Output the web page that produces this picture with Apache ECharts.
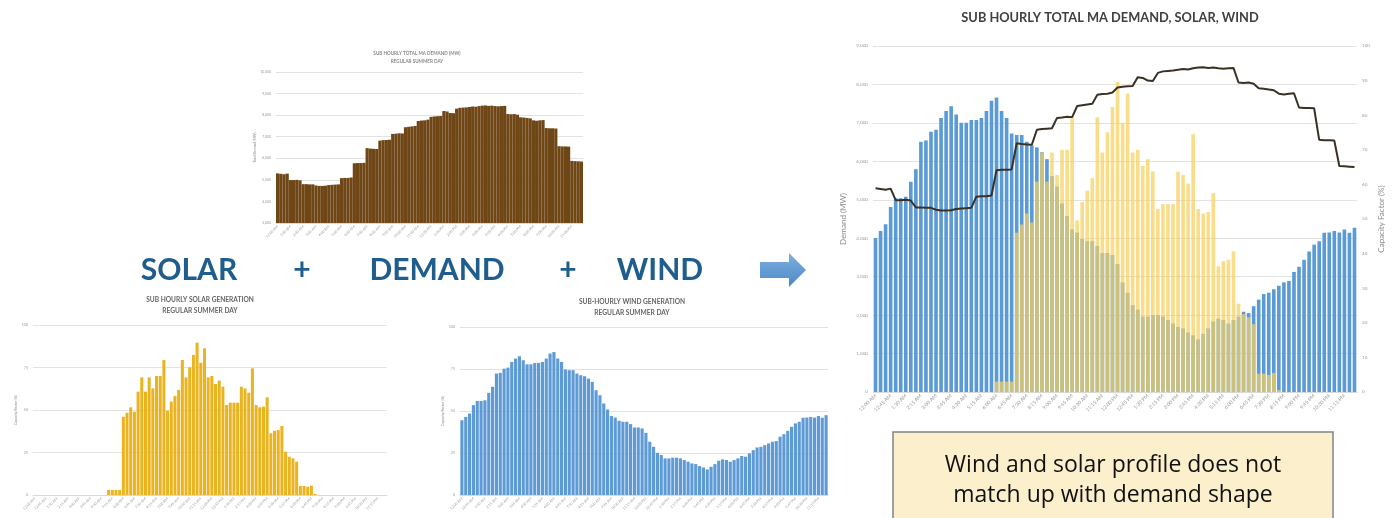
<!DOCTYPE html>
<html>
<head>
<meta charset="utf-8">
<script src="https://cdn.jsdelivr.net/npm/echarts@6/dist/echarts.min.js"></script>
<style>
  html, body { margin: 0; padding: 0; background: #ffffff; }
  #main { width: 1392px; height: 518px; }
</style>
</head>
<body>
<div id="main"></div>
<script>
// ---- categories: 15-minute slots over one day ----
const timeSlots = [];
for (let h = 0; h < 24; h++) {
  for (let m = 0; m < 60; m += 15) {
    const hh = h % 12 === 0 ? 12 : h % 12;
    timeSlots.push(hh + ':' + String(m).padStart(2, '0') + ' ' + (h < 12 ? 'AM' : 'PM'));
  }
}

// ---- total MA demand (MW), 15-minute values ----
const demandMW = [
  5300, 5280, 5260, 5290,  4990, 4990, 5000, 4980,  4800, 4800, 4790, 4790,  4740, 4720, 4720, 4730,
  4760, 4770, 4780, 4790,  5080, 5090, 5090, 5110,  5770, 5780, 5780, 5790,  6470, 6450, 6440, 6430,
  6820, 6840, 6850, 6860,  7130, 7140, 7160, 7150,  7440, 7460, 7480, 7500,  7730, 7750, 7760, 7790,
  7920, 7940, 7950, 7960,  8190, 8170, 8100, 8090,  8300, 8340, 8350, 8360,  8380, 8400, 8390, 8420,
  8440, 8450, 8430, 8440,  8420, 8410, 8420, 8430,  8050, 8040, 8050, 8020,  7900, 7890, 7870, 7850,
  7760, 7740, 7760, 7770,  7400, 7390, 7390, 7380,  6560, 6550, 6550, 6540,  5880, 5870, 5860, 5850
];

// ---- wind capacity factor (%) ----
const windCF = [
  44.5, 46.5, 48.5, 53.5, 56.0, 56.0, 56.4, 60.8, 64.4, 72.3, 72.7, 75.2, 75.8, 79.2, 81.2, 82.6,
  80.2, 77.8, 77.8, 78.6, 78.6, 79.2, 81.2, 84.2, 85.1, 81.2, 79.2, 74.7, 74.3, 74.3, 72.3, 71.3,
  70.7, 69.3, 67.3, 62.4, 59.4, 54.5, 50.9, 47.0, 46.1, 44.2, 43.6, 43.6, 42.2, 40.2, 40.2, 39.6,
  37.0, 31.7, 28.7, 25.1, 23.8, 21.8, 21.8, 22.2, 22.2, 21.8, 20.8, 19.8, 18.8, 18.4, 17.2, 16.4,
  15.2, 16.8, 18.4, 20.4, 21.2, 20.8, 19.8, 20.8, 21.8, 23.2, 22.8, 24.8, 26.7, 28.3, 28.7, 29.7,
  30.7, 31.7, 32.1, 34.7, 36.2, 38.2, 40.6, 42.6, 43.6, 46.0, 46.1, 46.5, 46.1, 47.0, 46.0, 47.5
];

// ---- solar capacity factor (%), stand-alone solar chart ----
const solarCF = [
  0, 0, 0, 0, 0, 0, 0, 0, 0, 0, 0, 0, 0, 0, 0, 0,
  0, 0, 0, 0, 3, 3, 3, 3, 46.0, 48.4, 51.6, 49.0, 60.8, 69.2, 60.8, 69.2,
  62.7, 70.0, 70.0, 79.4, 49.6, 54.9, 58.2, 61.8, 79.4, 69.2, 75.1, 82.4, 89.6, 77.8, 86.3, 69.2,
  70.0, 65.3, 67.3, 63.7, 52.9, 54.3, 54.3, 54.3, 63.7, 62.7, 60.2, 74.5, 52.9, 51.6, 52.0, 57.5,
  36.3, 37.8, 38.2, 40.6, 25.5, 22.5, 21.6, 19.6, 5.3, 5.3, 4.9, 5.5, 0.6, 0, 0, 0,
  0, 0, 0, 0, 0, 0, 0, 0, 0, 0, 0, 0, 0, 0, 0, 0
];

// ---- solar capacity factor (%), as plotted in the combined chart ----
const solarCFCombined = [
  0, 0, 0, 0, 0, 0, 0, 0, 0, 0, 0, 0, 0, 0, 0, 0,
  0, 0, 0, 0, 0, 0, 0, 0, 3, 3, 3, 3, 46.0, 48.4, 51.6, 49.0,
  60.8, 69.2, 60.8, 69.2, 62.7, 70.0, 70.0, 79.4, 49.6, 54.9, 58.2, 61.8, 79.4, 69.2, 75.1, 82.4,
  89.6, 77.8, 86.3, 69.2, 70.0, 65.3, 67.3, 63.7, 52.9, 54.3, 54.3, 54.3, 63.7, 62.7, 60.2, 74.5,
  52.9, 51.6, 52.0, 57.5, 36.3, 37.8, 38.2, 40.6, 25.5, 22.5, 21.6, 19.6, 5.3, 5.3, 4.9, 5.5,
  0.6, 0, 0, 0, 0, 0, 0, 0, 0, 0, 0, 0, 0, 0, 0, 0
];

// ---- axis ranges ----
const demandRangeMW = [3000, 10000, 1000];
const cfRangeSmall = [0, 100, 25];
const demandRangeCombined = [0, 9000, 1000];
const cfRangeCombined = [0, 100, 10];

// ---- headline words and note ----
const headlineWords = ['SOLAR', '+', 'DEMAND', '+', 'WIND'];
const noteLines = ['Wind and solar profile does not', 'match up with demand shape'];

const FONT = 'Lato, "Open Sans", "Noto Sans", sans-serif';
const gridLine = { lineStyle: { color: '#E3E3E3', width: 1 } };
const tinyLabel = (size) => ({ fontSize: size, color: '#9A9A9A', fontFamily: FONT });

function catAxis(gridIndex, interval, size) {
  return {
    type: 'category', gridIndex: gridIndex, data: timeSlots,
    axisTick: { show: false },
    axisLine: { lineStyle: { color: '#D9D9D9' } },
    axisLabel: Object.assign({ rotate: 45, interval: interval, margin: 3 }, tinyLabel(size))
  };
}

function valAxis(gridIndex, range, size, name, nameSize, nameGap, extra) {
  return Object.assign({
    type: 'value', gridIndex: gridIndex, min: range[0], max: range[1], interval: range[2],
    splitLine: gridLine,
    axisLabel: Object.assign({ margin: 5 }, tinyLabel(size)),
    name: name, nameLocation: 'middle', nameGap: nameGap,
    nameTextStyle: { fontSize: nameSize, color: '#8C8C8C', fontFamily: FONT }
  }, extra || {});
}

const chart = echarts.init(document.getElementById('main'), null, { renderer: 'canvas' });

const headlineX = [189, 302, 437, 568, 660];
const graphic = [];

// chart titles
function titlePair(x, y1, y2, a, b, font, fill) {
  graphic.push({ type: 'text', x: x, y: y1, style: { text: a, font: font, fill: fill, textAlign: 'center', textVerticalAlign: 'middle' } });
  if (b) graphic.push({ type: 'text', x: x, y: y2, style: { text: b, font: font, fill: fill, textAlign: 'center', textVerticalAlign: 'middle' } });
}
titlePair(1110, 18, 0, 'SUB HOURLY TOTAL MA DEMAND, SOLAR, WIND', null, 'bold 12.8px ' + FONT, '#404040');
titlePair(417, 54, 62, 'SUB HOURLY TOTAL MA DEMAND (MW)', 'REGULAR SUMMER DAY', 'bold 4.6px ' + FONT, '#8A8A8A');
titlePair(200, 300, 311, 'SUB HOURLY SOLAR GENERATION', 'REGULAR SUMMER DAY', 'bold 6.6px ' + FONT, '#666666');
titlePair(632, 302, 313, 'SUB-HOURLY WIND GENERATION', 'REGULAR SUMMER DAY', 'bold 6.6px ' + FONT, '#666666');

// headline words
headlineWords.forEach(function (w, i) {
  graphic.push({
    type: 'text', x: headlineX[i], y: 270,
    style: { text: w, font: 'bold 30px ' + FONT, fill: '#1F5E8C', textAlign: 'center', textVerticalAlign: 'middle' }
  });
});

// right-pointing arrow
graphic.push({
  type: 'polygon',
  shape: { points: [[760, 262], [789, 262], [789, 253], [806, 270], [789, 287], [789, 278], [760, 278]] },
  style: {
    fill: new echarts.graphic.LinearGradient(0, 0, 0, 1, [
      { offset: 0, color: '#7FB0E0' }, { offset: 1, color: '#4C88C6' }
    ])
  }
});

// note box
graphic.push({
  type: 'rect', shape: { x: 893, y: 432, width: 440, height: 100 },
  style: { fill: '#FCEFCB', stroke: '#7D8589', lineWidth: 1.5 }
});
noteLines.forEach(function (t, i) {
  graphic.push({
    type: 'text', x: 1113, y: 465 + i * 30,
    style: { text: t, font: '23px "Open Sans", Lato, sans-serif', fill: '#111111', textAlign: 'center', textVerticalAlign: 'middle' }
  });
});

chart.setOption({
  animation: false,
  backgroundColor: '#ffffff',
  grid: [
    { left: 276, top: 72, width: 307, height: 151 },
    { left: 33, top: 325, width: 354, height: 170 },
    { left: 460, top: 327, width: 368, height: 168 },
    { left: 873, top: 46, width: 484, height: 346 }
  ],
  xAxis: [
    catAxis(0, 3, 3.6),
    catAxis(1, 2, 3.6),
    catAxis(2, 2, 3.6),
    catAxis(3, 2, 5)
  ],
  yAxis: [
    valAxis(0, demandRangeMW, 3.4, 'Total Demand (MW)', 3.4, 16),
    valAxis(1, cfRangeSmall, 3.6, 'Capacity Factor (%)', 3.6, 12),
    valAxis(2, cfRangeSmall, 3.6, 'Capacity Factor (%)', 3.6, 12),
    valAxis(3, demandRangeCombined, 4.6, 'Demand (MW)', 8, 26),
    valAxis(3, cfRangeCombined, 4.6, 'Capacity Factor (%)', 8, 20, { position: 'right', splitLine: { show: false } })
  ],
  series: [
    {
      name: 'Demand', type: 'bar', xAxisIndex: 0, yAxisIndex: 0, data: demandMW,
      barCategoryGap: '0%', itemStyle: { color: '#6F4616' }
    },
    {
      name: 'Solar', type: 'bar', xAxisIndex: 1, yAxisIndex: 1, data: solarCF,
      barCategoryGap: '18%', itemStyle: { color: '#EAB420' }
    },
    {
      name: 'Wind', type: 'bar', xAxisIndex: 2, yAxisIndex: 2, data: windCF,
      barCategoryGap: '18%', itemStyle: { color: '#5E9BD6' }
    },
    {
      name: 'Wind CF', type: 'bar', xAxisIndex: 3, yAxisIndex: 4, data: windCF,
      barCategoryGap: '28%', barGap: '-100%', itemStyle: { color: '#5B9BD5' }
    },
    {
      name: 'Solar CF', type: 'bar', xAxisIndex: 3, yAxisIndex: 4, data: solarCFCombined,
      barCategoryGap: '28%', barGap: '-100%', itemStyle: { color: 'rgba(247, 208, 90, 0.72)' }
    },
    {
      name: 'MA Demand', type: 'line', xAxisIndex: 3, yAxisIndex: 3, data: demandMW,
      showSymbol: false, lineStyle: { color: '#3A3024', width: 2 }, z: 5
    }
  ],
  graphic: graphic
});
</script>
</body>
</html>
